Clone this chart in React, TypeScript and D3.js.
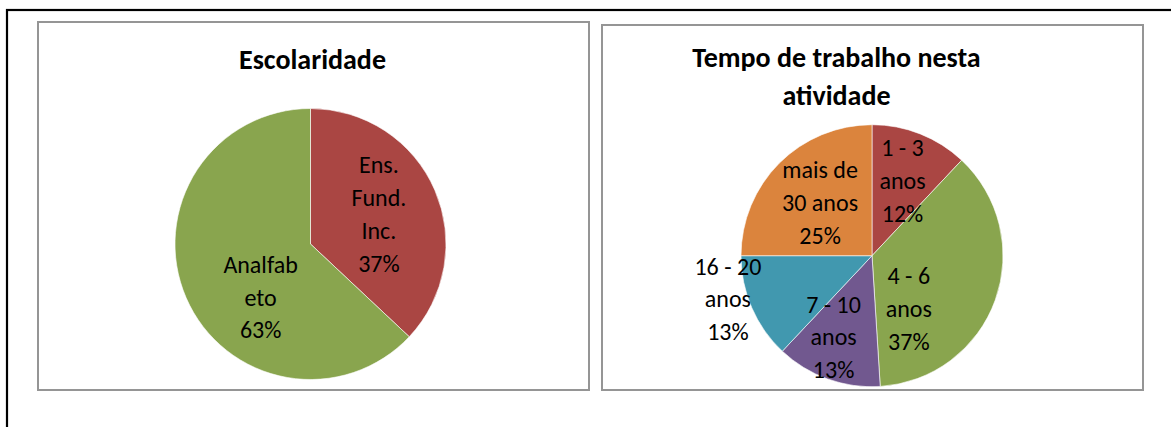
import React from "react";
import * as d3 from "d3";

// Escolaridade
const schoolingLabels = [["Ens.", "Fund.", "Inc."], ["Analfab", "eto"]];
const schoolingValues = [37, 63];
const schoolingColors = ["#AA4643", "#89A54E"];

// Tempo de trabalho nesta atividade
const tenureLabels = [["1 - 3", "anos"], ["4 - 6", "anos"], ["7 - 10", "anos"], ["16 - 20", "anos"], ["mais de", "30 anos"]];
const tenureValues = [12, 37, 13, 13, 25];
const tenureColors = ["#AA4643", "#89A54E", "#71588F", "#4198AF", "#DB843D"];

const FONT = "Carlito, Calibri, Lato, 'Open Sans', sans-serif";
const LABEL_SIZE = 24;
const LINE_H = 32.8;
const CAP_HALF = 8;

type PieProps = {
  cx: number;
  cy: number;
  r: number;
  values: number[];
  colors: string[];
  labels: string[][];
  nudges: [number, number][];
};

function Pie({ cx, cy, r, values, colors, labels, nudges }: PieProps) {
  const arcs = d3.pie<number>().sort(null).value((d) => d)(values);
  const arc = d3.arc<d3.PieArcDatum<number>>().innerRadius(0).outerRadius(r);
  const labelArc = d3.arc<d3.PieArcDatum<number>>().innerRadius(r * 0.55).outerRadius(r * 0.55);
  const total = d3.sum(values);
  return (
    <g transform={`translate(${cx},${cy})`}>
      {arcs.map((a, i) => (
        <path key={i} d={arc(a) || ""} fill={colors[i]} stroke="#ffffff" strokeWidth={0.6} />
      ))}
      {arcs.map((a, i) => {
        const [lx, ly] = labelArc.centroid(a);
        const lines = [...labels[i], `${Math.round((values[i] / total) * 100)}%`];
        const x = lx + nudges[i][0];
        const y = ly + nudges[i][1];
        return (
          <text key={i} textAnchor="middle" fontFamily={FONT} fontSize={LABEL_SIZE} fill="#000">
            {lines.map((t, j) => (
              <tspan key={j} x={x} y={y + (j - (lines.length - 1) / 2) * LINE_H + CAP_HALF}>
                {t}
              </tspan>
            ))}
          </text>
        );
      })}
    </g>
  );
}

export default function App() {
  return (
    <svg
      width={1171}
      height={427}
      style={{ position: "absolute", left: 0, top: 0, background: "#fff" }}
    >
      <rect x={0} y={0} width={1171} height={427} fill="#fff" />
      {/* page frame */}
      <rect x={7} y={10} width={1180} height={440} fill="none" stroke="#000" strokeWidth={2.2} />

      {/* left chart area */}
      <rect x={38} y={22} width={551} height={368} fill="#fff" stroke="#959595" strokeWidth={2} />
      <text x={312.5} y={69} textAnchor="middle" fontFamily={FONT} fontWeight="bold" fontSize={28}>
        Escolaridade
      </text>
      <Pie
        cx={310.5}
        cy={244}
        r={135.5}
        values={schoolingValues}
        colors={schoolingColors}
        labels={schoolingLabels}
        nudges={[[0, 0], [18.5, 24]]}
      />

      {/* right chart area */}
      <rect x={602} y={25} width={541} height={365} fill="#fff" stroke="#959595" strokeWidth={2} />
      <text textAnchor="middle" fontFamily={FONT} fontWeight="bold" fontSize={28}>
        <tspan x={836.5} y={67}>Tempo de trabalho nesta</tspan>
        <tspan x={836.5} y={104.5}>atividade</tspan>
      </text>
      <Pie
        cx={872}
        cy={255.7}
        r={131}
        values={tenureValues}
        colors={tenureColors}
        labels={tenureLabels}
        nudges={[[4, -8], [-31, 29], [-14, 14], [-78, 15], [-1, -2]]}
      />
    </svg>
  );
}
